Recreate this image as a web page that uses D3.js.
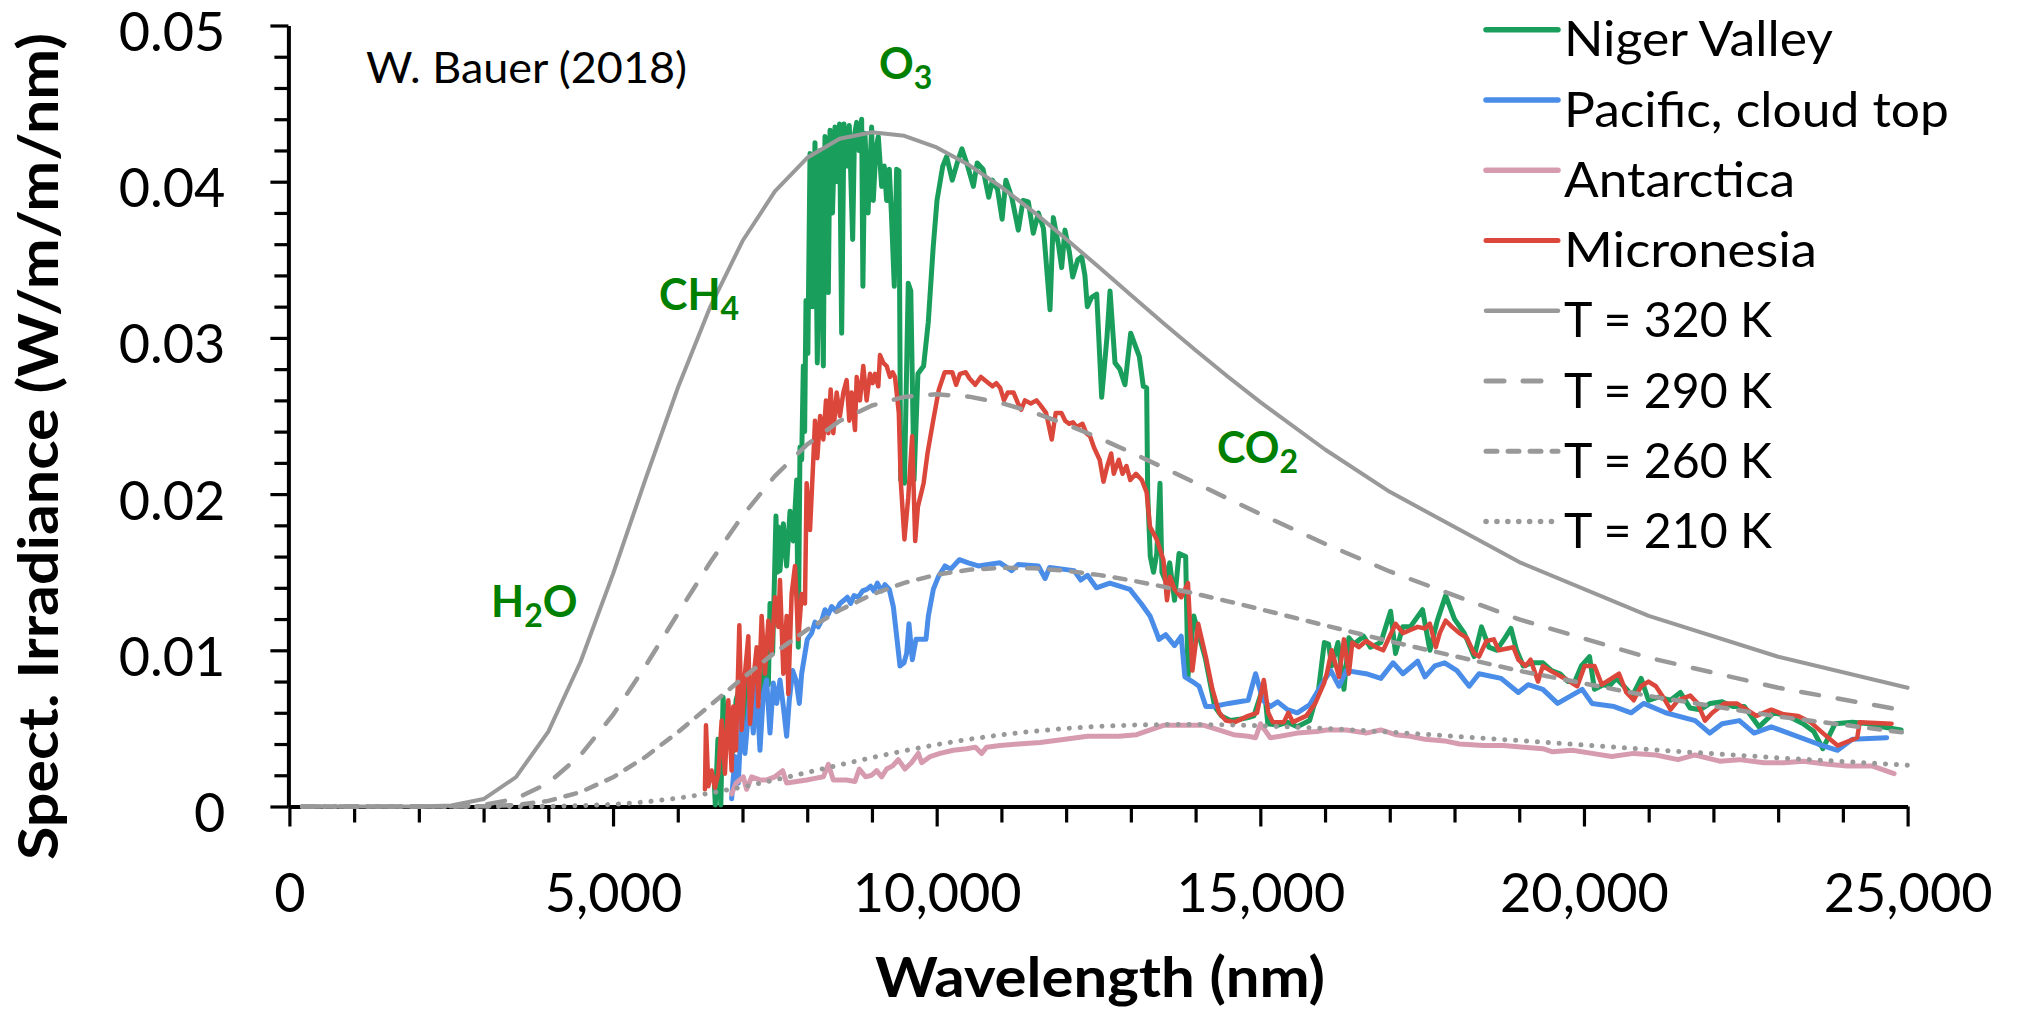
<!DOCTYPE html>
<html><head><meta charset="utf-8">
<script src="https://cdn.jsdelivr.net/npm/d3@7"></script>
<style>html,body{margin:0;padding:0;background:#fff;}svg{display:block;}</style>
</head><body>
<svg id="chart" width="2017" height="1010"></svg>
<script>
// ---------------- data ----------------
const X_TICKS = [0, 5000, 10000, 15000, 20000, 25000];
const X_TICK_LABELS = ["0", "5,000", "10,000", "15,000", "20,000", "25,000"];
const X_MINOR_TICKS = [1000,2000,3000,4000,6000,7000,8000,9000,11000,12000,13000,14000,16000,17000,18000,19000,21000,22000,23000,24000];
const Y_TICKS = [0, 0.01, 0.02, 0.03, 0.04, 0.05];
const Y_TICK_LABELS = ["0", "0.01", "0.02", "0.03", "0.04", "0.05"];
const Y_MINOR_TICKS = [0.002,0.004,0.006,0.008,0.012,0.014,0.016,0.018,0.022,0.024,0.026,0.028,0.032,0.034,0.036,0.038,0.042,0.044,0.046,0.048];

const LEGEND_LABELS = ["Niger Valley", "Pacific, cloud top", "Antarctica", "Micronesia", "T = 320 K", "T = 290 K", "T = 260 K", "T = 210 K"];

// blackbody reference curves (wavelength nm, spectral irradiance W/m/m/nm)
const BB_WL = [200,500,1000,1500,2000,2500,3000,3500,4000,4500,5000,5500,6000,6500,7000,7500,8000,8500,9000,9500,10000,10500,11000,11500,12000,12500,13000,13500,14000,14500,15000,16000,17000,19000,21000,23000,25000];
const T320 = [0,0,0,0,0.000002,0.000059,0.000477,0.001878,0.004798,0.009284,0.014890,0.020942,0.026794,0.031974,0.036202,0.039379,0.041528,0.042745,0.043169,0.042938,0.042192,0.041066,0.039656,0.038051,0.036333,0.034550,0.032747,0.030958,0.029210,0.027513,0.025886,0.022855,0.020145,0.015646,0.012201,0.009588,0.007601];
const T290 = [0,0,0,0,0,0.000009,0.000101,0.000497,0.001500,0.003302,0.005873,0.008988,0.012338,0.015624,0.018612,0.021155,0.023180,0.024679,0.025674,0.026224,0.026390,0.026238,0.025828,0.025221,0.024468,0.023607,0.022675,0.021701,0.020706,0.019708,0.018722,0.016818,0.015048,0.011977,0.009525,0.007603,0.006105];
const T260 = [0,0,0,0,0,0.000001,0.000015,0.000097,0.000359,0.000926,0.001869,0.003174,0.004752,0.006475,0.008212,0.009855,0.011322,0.012566,0.013566,0.014320,0.014843,0.015153,0.015281,0.015252,0.015093,0.014829,0.014483,0.014075,0.013621,0.013136,0.012630,0.011597,0.010573,0.008684,0.007078,0.005762,0.004703];
const T210 = [0,0,0,0,0,0,0,0.000001,0.000013,0.000050,0.000134,0.000289,0.000529,0.000853,0.001250,0.001700,0.002179,0.002664,0.003133,0.003570,0.003963,0.004305,0.004592,0.004823,0.005001,0.005128,0.005209,0.005249,0.005252,0.005224,0.005170,0.004999,0.004768,0.004219,0.003648,0.003115,0.002643];

// Niger Valley
const NIGER_WL = [6560,6580,6620,6665,6700,6740,6790,6850,6900,6960,7013,7064,7110,7141,7200,7244,7300,7350,7400,7425,7466,7517,7540,7553,7579,7631,7682,7734,7785,7837,7862,7888,7914,7940,7960,7981,8010,8043,8080,8120,8156,8200,8230,8249,8274,8300,8326,8352,8390,8429,8470,8500,8532,8568,8610,8650,8702,8730,8764,8800,8841,8860,8892,8940,8995,9021,9060,9098,9150,9190,9227,9268,9300,9345,9381,9417,9444,9502,9561,9600,9650,9710,9798,9870,9946,10005,10094,10153,10241,10331,10390,10478,10567,10626,10716,10804,10862,10940,11011,11069,11160,11261,11335,11416,11493,11571,11650,11751,11802,11880,11931,11982,12050,12101,12180,12240,12290,12327,12394,12472,12549,12630,12678,12755,12830,12909,12997,13131,13192,13244,13260,13300,13350,13400,13450,13480,13530,13600,13675,13744,13847,13882,13972,14050,14150,14295,14398,14537,14700,14813,14900,15055,15116,15268,15420,15571,15761,15900,15989,16054,16103,16200,16292,16368,16450,16596,16700,16862,17013,17089,17200,17317,17506,17620,17734,17863,18000,18151,18303,18417,18531,18650,18780,18872,18960,19062,19200,19365,19500,19631,19750,19859,19960,20086,20162,20300,20390,20500,20617,20750,20883,20997,21150,21338,21490,21640,21794,21950,22135,22300,22477,22704,22932,23150,23387,23550,23691,23880,24146,24411,24601,24900];
const NIGER = [0.0020,0.0001,0.0043,0.0001,0.0070,0.0040,0.0062,0.0035,0.0068,0.0077,0.0047,0.0085,0.0060,0.0077,0.0058,0.0087,0.0070,0.0095,0.0078,0.0130,0.0098,0.0186,0.0150,0.0179,0.0151,0.0181,0.0154,0.0189,0.0170,0.0209,0.0102,0.0230,0.0222,0.0282,0.0240,0.0324,0.0290,0.0418,0.0320,0.0425,0.0284,0.0420,0.0330,0.0282,0.0429,0.0360,0.0329,0.0433,0.0380,0.0435,0.0400,0.0437,0.0303,0.0437,0.0410,0.0436,0.0363,0.0430,0.0438,0.0420,0.0440,0.0333,0.0431,0.0380,0.0435,0.0388,0.0420,0.0429,0.0397,0.0410,0.0388,0.0408,0.0380,0.0333,0.0408,0.0407,0.0209,0.0207,0.0335,0.0330,0.0209,0.0277,0.0282,0.0310,0.0358,0.0388,0.0410,0.0416,0.0401,0.0414,0.0421,0.0410,0.0397,0.0412,0.0408,0.0390,0.0401,0.0395,0.0376,0.0401,0.0390,0.0369,0.0388,0.0387,0.0367,0.0380,0.0370,0.0318,0.0377,0.0360,0.0345,0.0369,0.0355,0.0339,0.0350,0.0352,0.0340,0.0320,0.0326,0.0328,0.0262,0.0300,0.0330,0.0284,0.0280,0.0270,0.0303,0.0288,0.0269,0.0268,0.0200,0.0160,0.0150,0.0162,0.0207,0.0150,0.0145,0.0156,0.0132,0.0162,0.0160,0.0083,0.0122,0.0110,0.0095,0.0064,0.0058,0.0055,0.0056,0.0057,0.0058,0.0078,0.0053,0.0052,0.0054,0.0051,0.0055,0.0075,0.0105,0.0104,0.0090,0.0105,0.0075,0.0108,0.0104,0.0109,0.0102,0.0105,0.0125,0.0098,0.0115,0.0115,0.0126,0.0100,0.0119,0.0135,0.0120,0.0111,0.0096,0.0115,0.0102,0.0100,0.0108,0.0114,0.0100,0.0090,0.0092,0.0092,0.0087,0.0085,0.0080,0.0080,0.0090,0.0096,0.0075,0.0078,0.0077,0.0082,0.0077,0.0071,0.0082,0.0068,0.0070,0.0068,0.0073,0.0063,0.0062,0.0066,0.0067,0.0064,0.0064,0.0051,0.0060,0.0058,0.0053,0.0048,0.0037,0.0053,0.0054,0.0053,0.0051,0.0049];

// Pacific, cloud top
const PACIFIC_WL = [6832,6884,6935,6987,7038,7116,7167,7219,7270,7322,7373,7425,7476,7528,7579,7631,7682,7723,7775,7826,7878,7914,8001,8068,8120,8171,8223,8274,8326,8377,8444,8506,8568,8619,8671,8722,8789,8856,8918,8980,9031,9083,9150,9201,9268,9330,9382,9433,9495,9536,9572,9624,9680,9768,9835,9871,9948,10025,10128,10216,10350,10489,10643,10798,10978,11158,11261,11571,11675,11744,12123,12227,12330,12468,12675,12985,13158,13296,13399,13433,13537,13675,13778,13834,13950,14054,14158,14282,14509,14813,14927,15040,15154,15268,15420,15571,15761,15989,16089,16216,16330,16634,16862,17051,17203,17431,17544,17696,17848,18038,18227,18379,18720,18986,19138,19365,19593,19973,20124,20466,20731,20921,21262,21718,21945,22135,22401,22628,22894,23160,23615,23918,24146,24677];
const PACIFIC = [0.0005,0.0032,0.0015,0.0060,0.0034,0.0072,0.0047,0.0077,0.0036,0.0072,0.0081,0.0047,0.0079,0.0066,0.0081,0.0064,0.0045,0.0068,0.0087,0.0081,0.0066,0.0085,0.0107,0.0111,0.0118,0.0115,0.0119,0.0126,0.0123,0.0128,0.0125,0.0130,0.0132,0.0134,0.0130,0.0135,0.0134,0.0138,0.0139,0.0141,0.0138,0.0143,0.0138,0.0142,0.0139,0.0128,0.0109,0.0090,0.0092,0.0098,0.0117,0.0094,0.0107,0.0107,0.0107,0.0122,0.0139,0.0147,0.0154,0.0152,0.0158,0.0156,0.0154,0.0155,0.0156,0.0151,0.0155,0.0154,0.0146,0.0153,0.0151,0.0145,0.0148,0.0140,0.0143,0.0139,0.0130,0.0122,0.0111,0.0107,0.0110,0.0103,0.0109,0.0083,0.0080,0.0077,0.0064,0.0064,0.0066,0.0068,0.0085,0.0068,0.0064,0.0067,0.0062,0.0060,0.0065,0.0081,0.0087,0.0077,0.0087,0.0085,0.0082,0.0092,0.0085,0.0093,0.0083,0.0090,0.0092,0.0087,0.0077,0.0085,0.0082,0.0073,0.0078,0.0075,0.0066,0.0075,0.0066,0.0064,0.0060,0.0066,0.0060,0.0055,0.0047,0.0053,0.0055,0.0047,0.0051,0.0047,0.0040,0.0036,0.0043,0.0044];

// Antarctica
const ANTARCTICA_WL = [6832,6900,7013,7064,7141,7270,7373,7500,7620,7682,7836,7991,8120,8249,8326,8403,8609,8738,8805,8900,8995,9072,9150,9227,9320,9407,9510,9610,9716,9768,9900,10051,10257,10463,10600,10695,10772,10978,11261,11600,11985,12330,12813,13089,13300,13503,13750,14130,14357,14585,14813,14927,15002,15154,15306,15571,15875,16027,16330,16634,16862,17089,17317,17544,17848,18075,18455,18758,19062,19365,19517,19821,20124,20428,20769,21111,21452,21718,22097,22401,22780,23084,23387,23767,24070,24449,24791];
const ANTARCTICA = [0.0008,0.0015,0.0019,0.0011,0.0019,0.0017,0.0017,0.0019,0.0023,0.0015,0.0016,0.0017,0.0018,0.0019,0.0027,0.0017,0.0017,0.0016,0.0024,0.0019,0.0020,0.0023,0.0019,0.0024,0.0026,0.0030,0.0024,0.0028,0.0034,0.0028,0.0032,0.0034,0.0036,0.0037,0.0038,0.0034,0.0038,0.0039,0.0040,0.0041,0.0043,0.0045,0.0045,0.0046,0.0049,0.0052,0.0052,0.0052,0.0049,0.0046,0.0045,0.0044,0.0053,0.0044,0.0045,0.0047,0.0048,0.0049,0.0049,0.0047,0.0049,0.0046,0.0045,0.0043,0.0042,0.0040,0.0039,0.0039,0.0038,0.0037,0.0035,0.0036,0.0034,0.0032,0.0034,0.0033,0.0030,0.0033,0.0029,0.0030,0.0028,0.0028,0.0029,0.0027,0.0026,0.0026,0.0021];

// Micronesia
const MICRONESIA_WL = [6420,6436,6472,6523,6575,6626,6678,6729,6781,6832,6858,6899,6951,6987,7038,7090,7116,7167,7219,7244,7296,7347,7399,7450,7502,7553,7579,7631,7682,7708,7759,7811,7862,7914,7965,7991,8043,8094,8120,8156,8200,8249,8290,8326,8362,8403,8455,8506,8558,8609,8650,8686,8738,8764,8815,8866,8918,8970,9011,9047,9098,9124,9176,9227,9279,9320,9356,9415,9444,9502,9561,9621,9668,9710,9798,9858,9946,10034,10124,10241,10301,10360,10448,10508,10596,10684,10774,10862,10921,10981,11040,11098,11188,11247,11306,11364,11454,11542,11602,11690,11778,11839,11927,11985,12046,12104,12163,12253,12311,12370,12429,12518,12577,12636,12696,12736,12813,12872,12932,12991,13079,13169,13244,13296,13399,13503,13558,13606,13675,13779,13882,13950,14040,14157,14261,14365,14468,14605,14813,14950,15054,15123,15192,15364,15433,15503,15710,15848,15985,16027,16103,16216,16292,16368,16421,16520,16634,16786,16899,17089,17203,17317,17431,17544,17620,17711,17772,17863,17962,18075,18189,18303,18379,18493,18607,18683,18796,18910,18986,19100,19176,19290,19365,19479,19745,19897,20010,20162,20276,20390,20542,20655,20769,20883,20997,21111,21224,21338,21452,21642,21756,21869,21983,22173,22362,22477,22666,22894,23084,23311,23501,23691,23918,24222,24260,24753];
const MICRONESIA = [0.0011,0.0052,0.0013,0.0023,0.0012,0.0021,0.0055,0.0021,0.0068,0.0023,0.0064,0.0036,0.0116,0.0049,0.0085,0.0109,0.0053,0.0081,0.0102,0.0064,0.0122,0.0085,0.0119,0.0098,0.0134,0.0115,0.0145,0.0085,0.0122,0.0072,0.0136,0.0154,0.0107,0.0136,0.0130,0.0207,0.0177,0.0222,0.0247,0.0223,0.0250,0.0235,0.0260,0.0239,0.0267,0.0239,0.0265,0.0250,0.0265,0.0273,0.0247,0.0265,0.0241,0.0275,0.0260,0.0282,0.0260,0.0277,0.0271,0.0277,0.0269,0.0289,0.0284,0.0282,0.0275,0.0278,0.0275,0.0252,0.0209,0.0171,0.0198,0.0237,0.0170,0.0192,0.0207,0.0226,0.0247,0.0267,0.0278,0.0278,0.0270,0.0277,0.0278,0.0274,0.0270,0.0275,0.0272,0.0269,0.0271,0.0268,0.0260,0.0265,0.0265,0.0259,0.0254,0.0260,0.0258,0.0260,0.0257,0.0252,0.0235,0.0252,0.0252,0.0247,0.0245,0.0246,0.0243,0.0245,0.0239,0.0237,0.0230,0.0222,0.0208,0.0218,0.0226,0.0213,0.0222,0.0213,0.0218,0.0209,0.0213,0.0209,0.0201,0.0179,0.0171,0.0158,0.0132,0.0147,0.0139,0.0134,0.0143,0.0087,0.0117,0.0096,0.0075,0.0060,0.0055,0.0054,0.0058,0.0060,0.0081,0.0060,0.0054,0.0054,0.0060,0.0054,0.0058,0.0066,0.0079,0.0085,0.0100,0.0083,0.0107,0.0085,0.0105,0.0102,0.0106,0.0102,0.0100,0.0117,0.0111,0.0113,0.0115,0.0114,0.0117,0.0102,0.0111,0.0119,0.0115,0.0111,0.0108,0.0098,0.0096,0.0106,0.0107,0.0100,0.0101,0.0102,0.0094,0.0090,0.0094,0.0080,0.0090,0.0087,0.0081,0.0077,0.0090,0.0090,0.0078,0.0081,0.0085,0.0073,0.0068,0.0077,0.0080,0.0077,0.0070,0.0062,0.0068,0.0071,0.0066,0.0055,0.0060,0.0066,0.0066,0.0063,0.0058,0.0062,0.0059,0.0058,0.0054,0.0047,0.0039,0.0044,0.0054,0.0053];

// ---------------- chart ----------------
const FONT = "Lato, 'Open Sans', 'DejaVu Sans', sans-serif";
const GREEN = "#1a9e5c", BLUE = "#4a8de9", PINK = "#d79bb0", RED = "#dc473c", GRAY = "#999999", NOTE = "#008000";

const svg = d3.select("#chart");
const x = d3.scaleLinear().domain([0, 25000]).range([289.4, 1907.6]);
const y = d3.scaleLinear().domain([0, 0.05]).range([806.5, 25.5]);

// minor ticks
const gxm = svg.append("g").attr("transform", `translate(0,${y(0)})`)
  .call(d3.axisBottom(x).tickValues(X_MINOR_TICKS).tickSize(16).tickFormat(""));
gxm.select(".domain").remove();
gxm.selectAll(".tick line").attr("stroke", "#000").attr("stroke-width", 3.2);

const gym = svg.append("g").attr("transform", `translate(${x(0) - 1},0)`)
  .call(d3.axisLeft(y).tickValues(Y_MINOR_TICKS).tickSize(14).tickFormat(""));
gym.select(".domain").remove();
gym.selectAll(".tick line").attr("stroke", "#000").attr("stroke-width", 3.2);

// major axes
const gx = svg.append("g").attr("transform", `translate(0,${y(0)})`)
  .call(d3.axisBottom(x).tickValues(X_TICKS).tickSize(20).tickSizeOuter(0)
    .tickFormat((d, i) => X_TICK_LABELS[i]));
gx.select(".domain").attr("stroke", "#000").attr("stroke-width", 4);
gx.selectAll(".tick line").attr("stroke", "#000").attr("stroke-width", 3.2);
gx.selectAll(".tick text").attr("font-family", FONT).attr("font-size", 54)
  .attr("fill", "#000").attr("y", 105.5).attr("dy", 0);

const gy = svg.append("g").attr("transform", `translate(${x(0) - 1},0)`)
  .call(d3.axisLeft(y).tickValues(Y_TICKS).tickSize(18).tickSizeOuter(0)
    .tickFormat((d, i) => Y_TICK_LABELS[i]));
gy.select(".domain").attr("stroke", "#000").attr("stroke-width", 4);
gy.selectAll(".tick line").attr("stroke", "#000").attr("stroke-width", 3.2);
gy.selectAll(".tick text").attr("font-family", FONT).attr("font-size", 54)
  .attr("fill", "#000").attr("x", -63).attr("dy", 25);

// series
const line = d3.line().x(d => x(d[0])).y(d => y(d[1]));
const series = [
  {wl: NIGER_WL, v: NIGER, color: GREEN, w: 5, dash: null},
  {wl: PACIFIC_WL, v: PACIFIC, color: BLUE, w: 5, dash: null},
  {wl: ANTARCTICA_WL, v: ANTARCTICA, color: PINK, w: 5, dash: null},
  {wl: MICRONESIA_WL, v: MICRONESIA, color: RED, w: 4.5, dash: null},
  {wl: BB_WL, v: T320, color: GRAY, w: 4, dash: null},
  {wl: BB_WL, v: T290, color: GRAY, w: 4.5, dash: "18 19"},
  {wl: BB_WL, v: T260, color: GRAY, w: 4.5, dash: "11 11"},
  {wl: BB_WL, v: T210, color: GRAY, w: 5, dash: "0.1 10.8"}
];
series.forEach(s => {
  svg.append("path").datum(d3.zip(s.wl, s.v))
    .attr("d", line).attr("fill", "none").attr("stroke", s.color)
    .attr("stroke-width", s.w).attr("stroke-linejoin", "round")
    .attr("stroke-linecap", "round")
    .attr("stroke-dasharray", s.dash);
});

// legend
const legendWidths = [269, 385, 231, 253, 208, 208, 208, 208];
const lg = svg.append("g");
series.forEach((s, i) => {
  const cy = 29.8 + i * 70.25;
  lg.append("line").attr("x1", 1486).attr("x2", 1558).attr("y1", cy).attr("y2", cy)
    .attr("stroke", s.color).attr("stroke-width", s.w + 0.5)
    .attr("stroke-linecap", "round").attr("stroke-dasharray", s.dash);
  lg.append("text").attr("x", 1564).attr("y", cy + 26.5)
    .attr("font-family", FONT).attr("font-size", 49).attr("fill", "#000")
    .attr("textLength", legendWidths[i]).attr("lengthAdjust", "spacingAndGlyphs")
    .text(LEGEND_LABELS[i]);
});

// axis titles
svg.append("text").attr("x", 1100).attr("y", 997).attr("text-anchor", "middle")
  .attr("font-family", FONT).attr("font-weight", "bold").attr("font-size", 55)
  .attr("textLength", 450).attr("lengthAdjust", "spacingAndGlyphs")
  .text("Wavelength (nm)");
svg.append("text").attr("transform", "translate(58,446.5) rotate(-90)")
  .attr("text-anchor", "middle")
  .attr("font-family", FONT).attr("font-weight", "bold").attr("font-size", 55)
  .attr("textLength", 827).attr("lengthAdjust", "spacingAndGlyphs")
  .text("Spect. Irradiance (W/m/m/nm)");

// annotations
svg.append("text").attr("x", 366).attr("y", 83).attr("font-family", FONT)
  .attr("font-size", 42).attr("fill", "#000")
  .attr("textLength", 321).attr("lengthAdjust", "spacingAndGlyphs")
  .text("W. Bauer (2018)");

function molecule(px, py, parts) {
  const t = svg.append("text").attr("x", px).attr("y", py)
    .attr("font-family", FONT).attr("font-weight", "bold").attr("font-size", 43)
    .attr("fill", NOTE);
  let shifted = false;
  parts.forEach(p => {
    const ts = t.append("tspan").text(p.t);
    if (p.sub && !shifted) { ts.attr("dy", 10).attr("font-size", 32); shifted = true; }
    else if (!p.sub && shifted) { ts.attr("dy", -10); shifted = false; }
  });
}
molecule(879, 79, [{t: "O"}, {t: "3", sub: true}]);
molecule(659, 310, [{t: "CH"}, {t: "4", sub: true}]);
molecule(1217, 463, [{t: "CO"}, {t: "2", sub: true}]);
molecule(491, 617, [{t: "H"}, {t: "2", sub: true}, {t: "O"}]);
</script>
</body></html>
